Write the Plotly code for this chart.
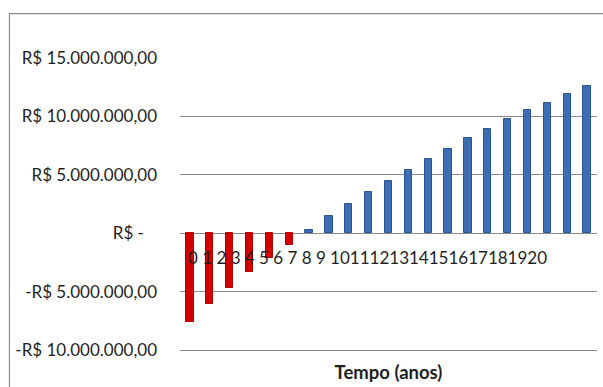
import plotly.graph_objects as go

# Fluxo de caixa acumulado por ano (R$)
anos = list(range(21))
fluxo_acumulado = [
    -7_600_000, -6_100_000, -4_730_000, -3_330_000, -2_110_000, -970_000,
    250_000, 1_500_000, 2_480_000, 3_500_000, 4_500_000, 5_440_000,
    6_360_000, 7_240_000, 8_150_000, 8_920_000, 9_780_000, 10_550_000,
    11_150_000, 11_880_000, 12_600_000,
]
rotulos_x = [str(a) for a in anos]
valores_y = [-10_000_000, -5_000_000, 0, 5_000_000, 10_000_000, 15_000_000]
rotulos_y = [
    "-R$ 10.000.000,00", "-R$ 5.000.000,00", "R$ -\u00a0\u00a0\u00a0",
    "R$ 5.000.000,00", "R$ 10.000.000,00", "R$ 15.000.000,00",
]

FONTE = "Lato, Carlito, Calibri, sans-serif"
COR_TEXTO = "#1f1f1f"
COR_GRADE = "#8a8a8a"

cores = ["#d40000" if v < 0 else "#3d6db3" for v in fluxo_acumulado]
bordas = ["#b00000" if v < 0 else "#2b5592" for v in fluxo_acumulado]

fig = go.Figure(
    go.Bar(
        x=anos,
        y=fluxo_acumulado,
        width=0.37,
        marker=dict(color=cores, line=dict(color=bordas, width=1)),
        hoverinfo="x+y",
    )
)

# rótulos do eixo de tempo, escritos em sequência junto à linha do zero
texto_anos = "".join(t + (" " if len(t) == 1 else "") for t in rotulos_x)
fig.add_annotation(
    text=texto_anos,
    xref="paper", yref="y",
    x=0.014, y=0,
    xanchor="left", yanchor="middle",
    yshift=-24,
    showarrow=False,
    font=dict(family=FONTE, size=17, color=COR_TEXTO),
)

# moldura da área do gráfico
fig.add_shape(
    type="rect", xref="paper", yref="paper",
    x0=-0.409, x1=1.03, y0=-0.2, y1=1.152,
    line=dict(color="#8c8c8c", width=1.2),
    fillcolor="rgba(0,0,0,0)",
    layer="below",
)

fig.update_layout(
    width=603,
    height=387,
    margin=dict(l=180, r=6, t=58, b=37),
    paper_bgcolor="white",
    plot_bgcolor="white",
    showlegend=False,
    bargap=0,
    font=dict(family=FONTE, size=17, color=COR_TEXTO),
    xaxis=dict(
        type="linear",
        range=[-0.5, 20.5],
        showticklabels=False,
        showgrid=False,
        zeroline=False,
        showline=True,
        linecolor=COR_GRADE,
        linewidth=1,
        ticks="",
        title=dict(
            text="<b>Tempo (anos)</b>",
            font=dict(family=FONTE, size=18.5, color=COR_TEXTO),
            standoff=16,
        ),
    ),
    yaxis=dict(
        range=[-10_000_000, 15_000_000],
        tickmode="array",
        tickvals=valores_y,
        ticktext=rotulos_y,
        showgrid=True,
        gridcolor=COR_GRADE,
        gridwidth=1,
        zeroline=True,
        zerolinecolor=COR_GRADE,
        zerolinewidth=1,
        showline=False,
        ticks="",
        ticklabelstandoff=22,
        tickfont=dict(family=FONTE, size=17, color=COR_TEXTO),
    ),
)

fig.write_html("out.html")
